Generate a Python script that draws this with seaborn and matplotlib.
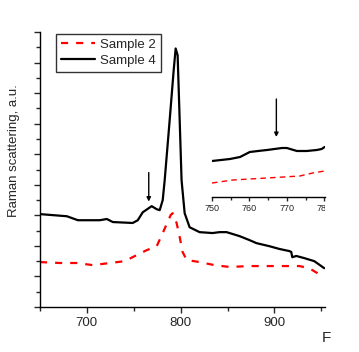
import numpy as np
import pandas as pd
import matplotlib
matplotlib.use("Agg")
import matplotlib.pyplot as plt
import seaborn as sns
from matplotlib.ticker import MultipleLocator

# ---- data (arbitrary intensity units) ----
s4_x = [650, 678.7, 690.4, 713.8, 721.3, 727.7, 748.9, 754.3, 759.6, 769.1, 774.5, 777.7,
        780.9, 783, 788.3, 792.6, 794.7, 796.8, 799, 801, 804.3, 809.6, 820.2, 834, 841.5,
        849, 862.8, 873.4, 880.9, 894.7, 905.3, 916, 918, 919.1, 923.4, 931.9, 942.6, 953.2]
s4_y = [3.04, 2.97, 2.84, 2.84, 2.88, 2.78, 2.75, 2.84, 3.10, 3.30, 3.20, 3.17,
        3.50, 4.15, 6.11, 7.75, 8.46, 8.24, 6.11, 4.15, 3.07, 2.61, 2.45, 2.42, 2.45,
        2.45, 2.32, 2.19, 2.09, 1.99, 1.90, 1.83, 1.80, 1.63, 1.67, 1.60, 1.50, 1.27]

s2_x = [650, 671.3, 689.4, 706.4, 724.5, 740.4, 753.2, 763.8, 774.5, 780.9, 789.4, 791.5,
        795.7, 799, 802.1, 806.4, 820.2, 836.2, 852.1, 873.4, 905.3, 926.6, 937.2, 945.7, 947.9]
s2_y = [1.47, 1.44, 1.44, 1.37, 1.44, 1.50, 1.70, 1.86, 1.99, 2.42, 3.01, 3.07,
        2.75, 2.29, 1.80, 1.54, 1.47, 1.37, 1.31, 1.34, 1.34, 1.34, 1.27, 1.11, 1.05]

# inset (zoomed 750-780 region)
in4_x = [750, 754.8, 757.5, 760.1, 762.3, 764.7, 768.7, 770, 772.7, 775.3, 778, 779.3, 780.1]
in4_y = [3.6, 3.8, 4.0, 4.5, 4.6, 4.7, 4.9, 4.9, 4.6, 4.6, 4.7, 4.8, 5.0]
in2_x = [750, 755.6, 764.7, 773.5, 776.9, 780.1]
in2_y = [1.4, 1.7, 1.9, 2.1, 2.4, 2.6]

labels = ["Sample 2", "Sample 4"]
main_xticks = [700, 800, 900]
inset_xticks = [750, 760, 770, 780]

sns.set_style("ticks")
plt.rcParams['font.family'] = ['Liberation Sans', 'DejaVu Sans']

fig = plt.figure(figsize=(3.59, 3.52), dpi=100)
ax = fig.add_axes([40/359, 45/352, 285/359, 275/352])

df2 = pd.DataFrame({"x": s2_x, "y": s2_y})
df4 = pd.DataFrame({"x": s4_x, "y": s4_y})
sns.lineplot(data=df2, x="x", y="y", ax=ax, color="#ff0000", lw=1.6,
             label=labels[0], sort=False)
ax.lines[-1].set_dashes((3.2, 3.6))
sns.lineplot(data=df4, x="x", y="y", ax=ax, color="black", lw=1.6,
             label=labels[1], sort=False)

ax.set_xlim(650, 954)
ax.set_ylim(0, 9)
ax.xaxis.set_major_locator(MultipleLocator(100))
ax.xaxis.set_minor_locator(MultipleLocator(50))
ax.yaxis.set_major_locator(MultipleLocator(1))
ax.yaxis.set_minor_locator(MultipleLocator(0.5))
ax.set_xticks(main_xticks)
ax.tick_params(axis='both', which='major', length=4, width=1, direction='out', labelsize=9.5, pad=3)
ax.tick_params(axis='both', which='minor', length=3, width=1, direction='out')
ax.tick_params(axis='y', which='both', labelleft=False)
for s in ['top', 'right']:
    ax.spines[s].set_visible(False)
for s in ['left', 'bottom']:
    ax.spines[s].set_linewidth(1)
    ax.spines[s].set_color('black')
ax.set_xlabel("")
ax.set_ylabel("Raman scattering, a.u.", fontsize=9.5)
ax.yaxis.set_label_coords(-0.07, 0.57)
fig.text(322/359, 1 - 338/352, "F", fontsize=11, ha='left', va='center')

leg = ax.legend(loc='upper left', bbox_to_anchor=(16/285, 1 - 2/275), frameon=True,
                fontsize=9.5, handlelength=2.6, borderpad=0.35, labelspacing=0.3,
                handletextpad=0.4, borderaxespad=0, fancybox=False)
leg.get_frame().set_edgecolor('black')
leg.get_frame().set_linewidth(1)

ax.annotate("", xy=(766, 3.45), xytext=(766, 4.4),
            arrowprops=dict(arrowstyle='-|>', color='black', lw=1, mutation_scale=6,
                            shrinkA=0, shrinkB=0))

# inset
ins = fig.add_axes([212/359, 1 - 197/352, 113/359, 107/352])
ins.patch.set_alpha(0)
di2 = pd.DataFrame({"x": in2_x, "y": in2_y})
di4 = pd.DataFrame({"x": in4_x, "y": in4_y})
sns.lineplot(data=di2, x="x", y="y", ax=ins, color="#ff0000", lw=1.0, legend=False)
ins.lines[-1].set_dashes((4, 3))
sns.lineplot(data=di4, x="x", y="y", ax=ins, color="black", lw=1.6, legend=False)
ins.set_xlim(750, 780.2)
ins.set_ylim(0, 10.7)
ins.set_xticks(inset_xticks)
ins.xaxis.set_minor_locator(MultipleLocator(5))
ins.set_yticks([])
ins.tick_params(axis='x', which='major', length=3, width=1, labelsize=6.5, pad=2)
ins.tick_params(axis='x', which='minor', length=2, width=1)
for s in ['top', 'right', 'left']:
    ins.spines[s].set_visible(False)
ins.spines['bottom'].set_linewidth(1)
ins.spines['bottom'].set_color('black')
ins.set_xlabel("")
ins.set_ylabel("")
for t in ins.get_xticklabels():
    t.set_clip_on(True)
    t.set_clip_box(ax.bbox)
ins.annotate("", xy=(767.2, 6.0), xytext=(767.2, 9.8),
             arrowprops=dict(arrowstyle='-|>', color='black', lw=1, mutation_scale=6,
                             shrinkA=0, shrinkB=0))

fig.savefig("out.png", dpi=100)
